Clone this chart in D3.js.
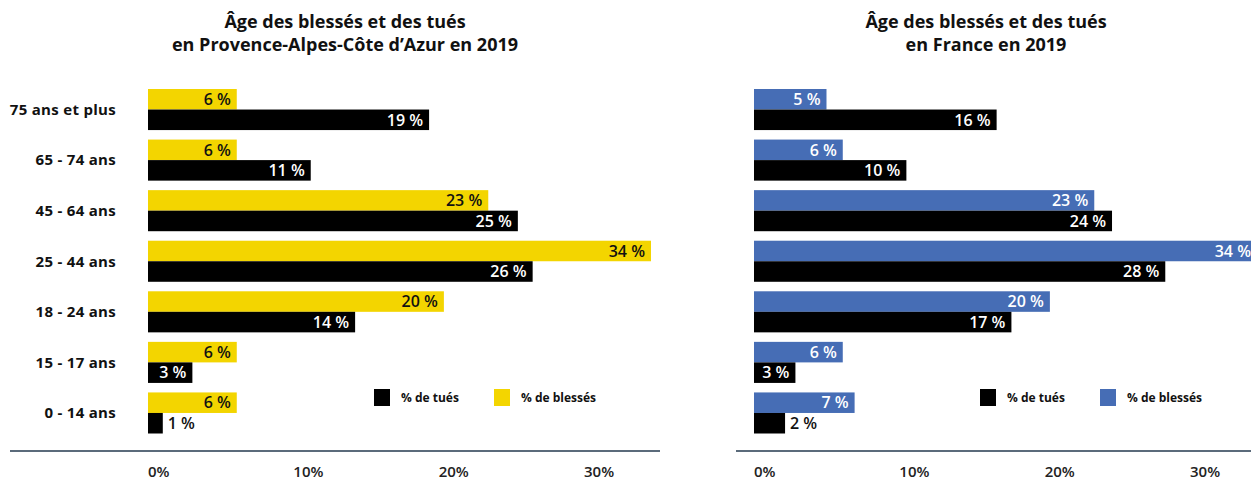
<!DOCTYPE html>
<html>
<head>
<meta charset="utf-8">
<script src="https://cdn.jsdelivr.net/npm/d3@7"></script>
<style>
	body { margin: 0; background: #fff; }
	svg { display: block; font-family: "Open Sans", sans-serif; }
</style>
</head>
<body>
<div id="chart"></div>
<script>
(function () {
	// Tranches d'âge, de haut en bas
	const categories = ["75 ans et plus", "65 - 74 ans", "45 - 64 ans", "25 - 44 ans", "18 - 24 ans", "15 - 17 ans", "0 - 14 ans"]

	// Provence-Alpes-Côte d'Azur
	const pacaBlesses = [6, 6, 23, 34, 20, 6, 6]
	const pacaTues = [19, 11, 25, 26, 14, 3, 1]

	// France
	const franceBlesses = [4.9, 6, 23, 34, 20, 6, 6.8]
	const franceTues = [16.4, 10.3, 24.2, 27.8, 17.4, 2.8, 2.1]

	const tickValues = [0, 10, 20, 30]
	const tickLabels = ["0%", "10%", "20%", "30%"]

	const width = 1251
	const height = 481

	const svg = d3.select("#chart")
		.append("svg")
		.attr("width", width)
		.attr("height", height)

	drawPanel({
		left: 148,
		title: ["Âge des blessés et des tués", "en Provence-Alpes-Côte d’Azur en 2019"],
		titleX: 345,
		blesses: pacaBlesses,
		tues: pacaTues,
		color: "#f3d500",
		blessesText: "#111",
		showCats: true,
		lineFrom: 10, lineTo: 660,
		legendX: 374
	})

	drawPanel({
		left: 754,
		title: ["Âge des blessés et des tués", "en France en 2019"],
		titleX: 986,
		blesses: franceBlesses,
		tues: franceTues,
		color: "#466db5",
		blessesText: "#fff",
		showCats: false,
		lineFrom: 736, lineTo: 1251,
		legendX: 980
	})

	function drawPanel(p) {
		const x = d3.scaleLinear().domain([0, 34]).range([p.left, p.left + 503])
		// les étiquettes de l'axe ne tombent pas tout à fait sur l'échelle des barres
		const xAxis = d3.scaleLinear().domain([0, 30]).range([p.left, p.left + 436])

		const y = d3.scaleBand()
			.domain(categories)
			.range([89, 433.5])
			.paddingInner(0.188)

		const sub = d3.scaleBand()
			.domain(["blesses", "tues"])
			.range([0, y.bandwidth()])

		const g = svg.append("g")

		// Titre
		g.append("text")
			.attr("x", p.titleX)
			.attr("y", 28)
			.attr("text-anchor", "middle")
			.style("font-size", "18px")
			.style("font-weight", 700)
			.style("fill", "#111")
			.selectAll("tspan")
			.data(p.title)
			.enter().append("tspan")
			.attr("x", p.titleX)
			.attr("dy", (d, i) => i ? 23 : 0)
			.text(d => d)

		// Libellés des tranches
		if (p.showCats) {
			g.selectAll(".cat")
				.data(categories)
				.enter().append("text")
				.attr("class", "cat")
				.attr("x", 116)
				.attr("y", d => y(d) + y.bandwidth() / 2)
				.attr("dy", "0.35em")
				.attr("text-anchor", "end")
				.style("font-size", "15px")
				.style("letter-spacing", "0.3px")
				.style("font-weight", 700)
				.style("fill", "#111")
				.text(d => d)
		}

		const rows = categories.map((c, i) => [
			{ cat: c, key: "blesses", v: p.blesses[i], fill: p.color, txt: p.blessesText },
			{ cat: c, key: "tues", v: p.tues[i], fill: "#000", txt: "#fff" }
		]).flat()

		g.selectAll(".bar")
			.data(rows)
			.enter().append("rect")
			.attr("class", "bar")
			.attr("x", x(0))
			.attr("y", d => y(d.cat) + sub(d.key))
			.attr("width", d => x(d.v) - x(0))
			.attr("height", sub.bandwidth())
			.attr("fill", d => d.fill)

		// Valeurs
		g.selectAll(".val")
			.data(rows)
			.enter().append("text")
			.attr("class", "val")
			.attr("y", d => y(d.cat) + sub(d.key) + sub.bandwidth() / 2)
			.attr("dy", "0.36em")
			.style("font-size", "16px")
			.style("font-weight", 600)
			.text(d => Math.round(d.v) + " %")
			.each(function (d) {
				const t = d3.select(this)
				const w = this.getComputedTextLength()
				const barW = x(d.v) - x(0)
				if (barW < w + 8) {
					t.attr("x", x(d.v) + 5).attr("text-anchor", "start").style("fill", "#111")
				} else {
					t.attr("x", x(d.v) - 6).attr("text-anchor", "end").style("fill", d.txt)
				}
			})

		// Ligne de base et graduations
		g.append("line")
			.attr("x1", p.lineFrom)
			.attr("x2", p.lineTo)
			.attr("y1", 451)
			.attr("y2", 451)
			.style("stroke", "#5b6b7b")
			.style("stroke-width", 2)

		g.selectAll(".tick")
			.data(tickValues)
			.enter().append("text")
			.attr("class", "tick")
			.attr("x", d => xAxis(d))
			.attr("y", 472)
			.attr("dy", "0.35em")
			.style("font-size", "15px")
			.style("font-weight", 600)
			.style("fill", "#222")
			.text((d, i) => tickLabels[i])

		// Légende
		const legend = [
			{ label: "% de tués", fill: "#000" },
			{ label: "% de blessés", fill: p.color }
		]
		const lg = g.selectAll(".leg")
			.data(legend)
			.enter().append("g")
			.attr("class", "leg")
			.attr("transform", (d, i) => `translate(${p.legendX + i * 120},389)`)
		lg.append("rect")
			.attr("width", 16)
			.attr("height", 17)
			.attr("fill", d => d.fill)
		lg.append("text")
			.attr("x", 27)
			.attr("y", 9)
			.attr("dy", "0.35em")
			.style("font-size", "12px")
			.style("font-weight", 700)
			.style("fill", "#111")
			.text(d => d.label)
	}
})()
</script>
</body>
</html>
